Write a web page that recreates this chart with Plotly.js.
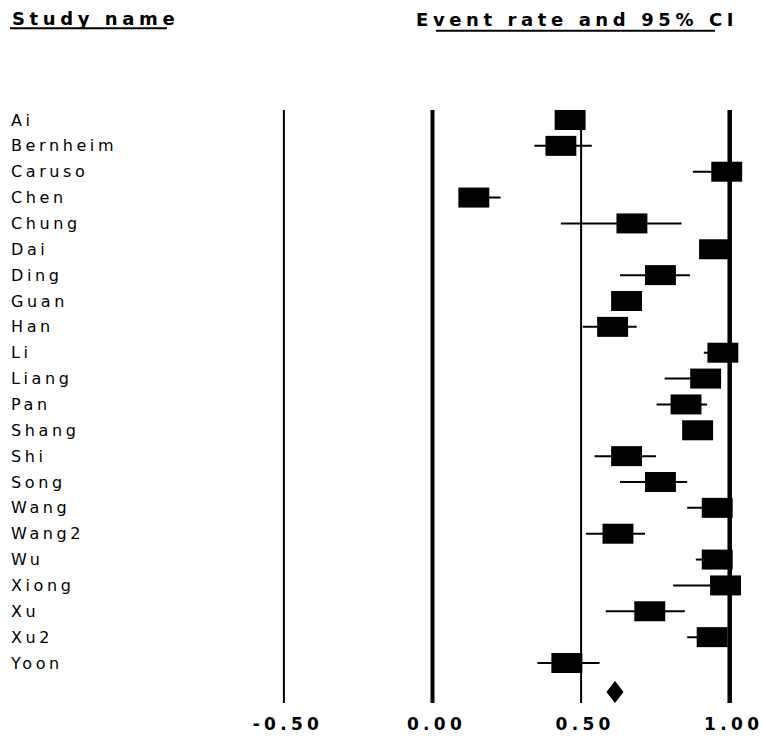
<!DOCTYPE html>
<html>
<head>
<meta charset="utf-8">
<script src="https://cdn.plot.ly/plotly-3.0.1.min.js"></script>
<style>
  html, body { margin: 0; padding: 0; background: #fff; }
  #chart { width: 763px; height: 736px; }
  .ytick text { letter-spacing: 3.6px; }
  .xtick text { letter-spacing: 4.3px; }
  .annotation-text { letter-spacing: 4.6px; }
</style>
</head>
<body>
<div id="chart"></div>
<script>
// ---- data ----
const studies = ['Ai','Bernheim','Caruso','Chen','Chung','Dai','Ding','Guan','Han','Li','Liang',
                 'Pan','Shang','Shi','Song','Wang','Wang2','Wu','Xiong','Xu','Xu2','Yoon'];
const eventRate = [0.463,0.432,0.990,0.139,0.671,0.949,0.767,0.653,0.606,0.977,0.919,
                   0.853,0.892,0.653,0.767,0.958,0.624,0.958,0.986,0.731,0.941,0.452];
const lowerCI   = [0.420,0.343,0.876,0.090,0.432,0.900,0.631,0.610,0.506,0.913,0.781,
                   0.754,0.850,0.545,0.631,0.857,0.516,0.886,0.810,0.583,0.857,0.353];
const upperCI   = [0.500,0.536,0.999,0.229,0.838,0.980,0.866,0.690,0.687,0.995,0.970,
                   0.924,0.930,0.752,0.857,0.985,0.715,0.980,0.998,0.849,0.975,0.562];
const summaryRate = 0.614;
const summaryLower = 0.587;
const summaryUpper = 0.641;
const tickValues = [-0.5, 0, 0.5, 1.0];
const tickLabels = ['-0.50', '0.00', '0.50', '1.00'];
const headerStudy = 'Study name';
const headerEffect = 'Event rate and 95% CI';

// ---- layout / style constants ----
const W = 763, H = 736;
const marginT = 110, marginB = 33;
const boxW = 0.104;      // box width in x units
const boxH = 0.7735;     // box height in row units
const summaryRow = 22.12;
const diamondHalf = 0.406;
const refWidths = [2, 4, 2, 4.5];
const fontReg = 'DejaVu Sans, Arial, sans-serif';

const rows = studies.map((_, i) => i);

const boxes = {
  type: 'bar', orientation: 'h',
  y: rows,
  x: eventRate.map(() => boxW),
  base: eventRate.map(v => v - boxW / 2),
  width: boxH,
  marker: { color: '#000', line: { width: 0 } },
  hoverinfo: 'skip'
};

const ci = {
  type: 'scatter', mode: 'markers',
  x: eventRate, y: rows,
  marker: { size: 2, color: '#000' },
  error_x: {
    type: 'data', symmetric: false,
    array: upperCI.map((u, i) => u - eventRate[i]),
    arrayminus: lowerCI.map((l, i) => eventRate[i] - l),
    color: '#000', thickness: 2, width: 0
  },
  hoverinfo: 'skip'
};

const diamond = {
  type: 'scatter', mode: 'lines', fill: 'toself',
  x: [summaryLower, summaryRate, summaryUpper, summaryRate, summaryLower],
  y: [summaryRow, summaryRow - diamondHalf, summaryRow, summaryRow + diamondHalf, summaryRow],
  line: { color: '#000', width: 1 },
  fillcolor: '#000',
  hoverinfo: 'skip'
};

const plotH = H - marginT - marginB;
const pxPerRow = 25.857;
const yTop = -10 / pxPerRow;
const yBottom = yTop + plotH / pxPerRow;

const x0px = 432.5, pxPerUnit = 297.2;
const xMin = -x0px / pxPerUnit, xMax = (W - x0px) / pxPerUnit;

const shapes = tickValues.map((v, i) => ({
  type: 'line', xref: 'x', yref: 'paper',
  x0: v, x1: v, y0: 0, y1: 1,
  line: { color: '#000', width: refWidths[i] },
  layer: 'below'
}));
const py = p => (H - marginB - p) / plotH;
shapes.push({ type: 'line', xref: 'paper', yref: 'paper', x0: 10 / W, x1: 167 / W, y0: py(28.3), y1: py(28.3), line: { color: '#000', width: 2 } });
shapes.push({ type: 'line', xref: 'paper', yref: 'paper', x0: 436 / W, x1: 715 / W, y0: py(30.7), y1: py(30.7), line: { color: '#000', width: 2 } });

const layout = {
  width: W, height: H,
  margin: { l: 0, r: 0, t: marginT, b: marginB, pad: 0 },
  paper_bgcolor: '#fff', plot_bgcolor: '#fff',
  showlegend: false, hovermode: false,
  xaxis: {
    range: [xMin, xMax], domain: [0, 1],
    tickvals: tickValues, ticktext: tickLabels,
    ticks: '', showgrid: false, zeroline: false, showline: false,
    tickangle: 0, ticklabelstandoff: 9, ticklabelshift: 4,
    ticklabeloverflow: 'allow',
    tickfont: { family: fontReg, size: 17, color: '#000', weight: 'bold' },
    fixedrange: true
  },
  yaxis: {
    range: [yBottom, yTop],
    tickvals: rows, ticktext: studies,
    ticks: '', showgrid: false, zeroline: false, showline: false,
    ticklabelposition: 'inside', ticklabelstandoff: 8,
    ticklabeloverflow: 'allow',
    tickfont: { family: fontReg, size: 16, color: '#000' },
    fixedrange: true
  },
  shapes: shapes,
  annotations: [
    { text: headerStudy, xref: 'paper', yref: 'paper', x: 96 / W, y: py(18), xanchor: 'center', yanchor: 'middle',
      showarrow: false, font: { family: fontReg, size: 18, color: '#000', weight: 'bold' } },
    { text: headerEffect, xref: 'paper', yref: 'paper', x: 577 / W, y: py(19.5), xanchor: 'center', yanchor: 'middle',
      showarrow: false, font: { family: fontReg, size: 18, color: '#000', weight: 'bold' } }
  ]
};

Plotly.newPlot('chart', [boxes, ci, diamond], layout, { displayModeBar: false, staticPlot: true });
</script>
</body>
</html>
